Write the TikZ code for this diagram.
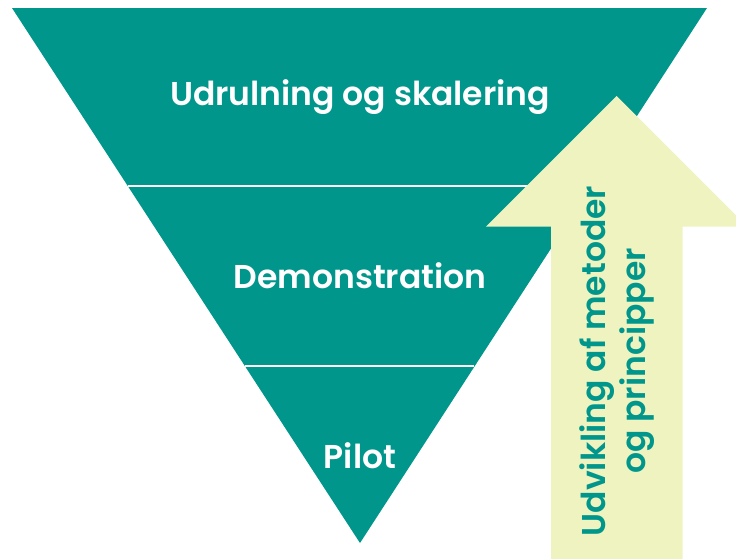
\documentclass[tikz,border=0pt]{standalone}
\usepackage{fontspec}
\setmainfont{Poppins}[BoldFont={Poppins SemiBold}]
\definecolor{funnel}{HTML}{00968B}
\definecolor{arrowfill}{HTML}{EFF3C0}
\tikzset{
  level/.style={text=white, font=\bfseries\fontsize{33}{37}\selectfont},
  divider/.style={white, line width=2pt},
  arrowtext/.style={rotate=90, align=center, text=funnel, font=\bfseries\fontsize{33}{40}\selectfont}
}
\begin{document}
\begin{tikzpicture}[x=1pt,y=-1pt]
\useasboundingbox (0,0) rectangle (736,558);
\clip (0,0) rectangle (736,558);
\fill[funnel] (12,8) -- (707,8) -- (360,543) -- cycle;
\draw[divider] (128,186) -- (591,186);
\draw[divider] (245,366) -- (474,366);
\node[level] (top) at (360,97) {Udrulning og skalering};
\node[level] (mid) at (360,276) {Demonstration};
\node[level] (bot) at (360,456) {Pilot};
\fill[arrowfill] (616.5,96) -- (747,226.5) -- (682.5,226.5) -- (682.5,560) -- (551,560) -- (551,226.5) -- (486,226.5) -- cycle;
\node[arrowtext] (arr) at (617,361) {Udvikling af metoder\\og principper};
\end{tikzpicture}
\end{document}
